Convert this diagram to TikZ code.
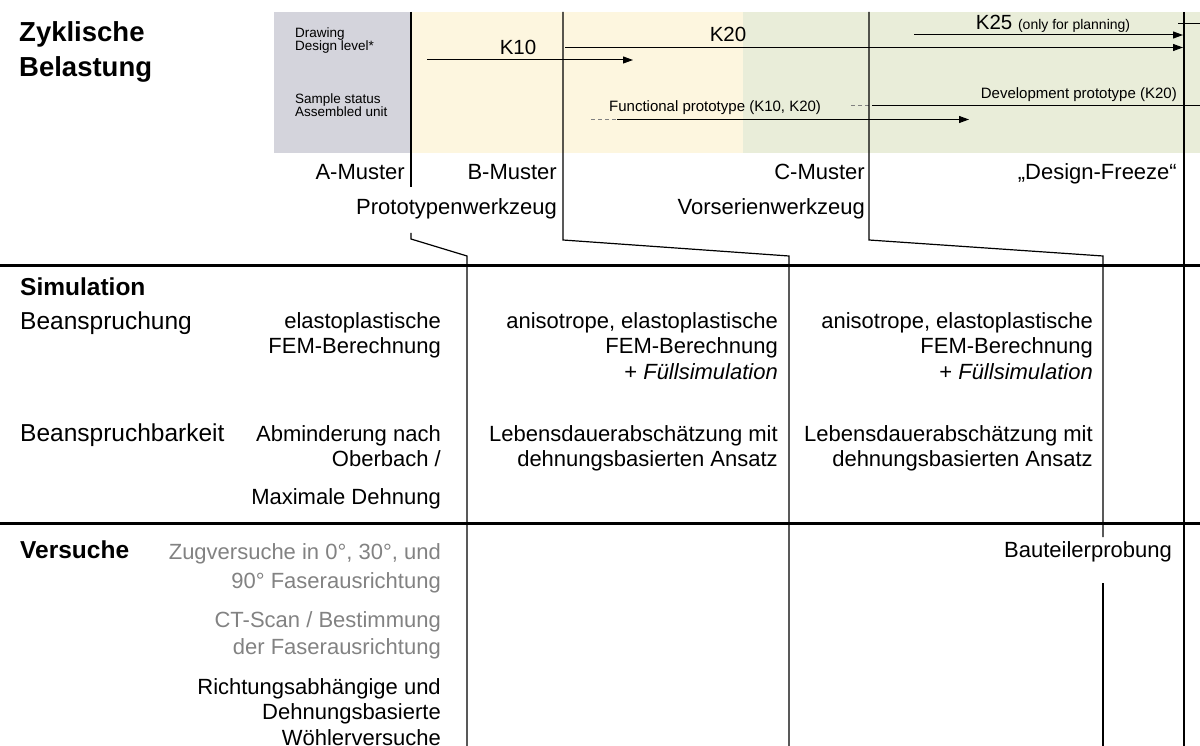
\documentclass[tikz,border=0pt]{standalone}
\usepackage{fontspec}
\setmainfont{Liberation Sans}
\usetikzlibrary{arrows.meta}
\definecolor{bandgray}{RGB}{212,212,220}
\definecolor{bandyellow}{RGB}{253,246,223}
\definecolor{bandgreen}{RGB}{233,237,217}
\definecolor{softtext}{RGB}{130,130,130}
\begin{document}
% multi-line nodes are placed by the baseline of their last line
\begin{tikzpicture}[x=1pt,y=-1pt,
  title/.style={inner sep=0pt,anchor=base west,align=left,font=\fontsize{27.5}{35}\selectfont\bfseries},
  head/.style={inner sep=0pt,anchor=base west,font=\fontsize{24.5}{28}\selectfont\bfseries},
  rowlabel/.style={inner sep=0pt,anchor=base west,font=\fontsize{24.5}{28}\selectfont},
  body/.style={inner sep=0pt,anchor=base east,align=right,font=\fontsize{22}{25.5}\selectfont},
  faint/.style={body,text=softtext},
  tiny/.style={inner sep=0pt,anchor=base west,align=left,font=\fontsize{13.5}{13}\selectfont},
  klab/.style={inner sep=0pt,anchor=base,font=\fontsize{20.5}{24}\selectfont},
  plab/.style={inner sep=0pt,font=\fontsize{15}{18}\selectfont},
  rule/.style={line width=1.2pt},
  heavy/.style={line width=3pt},
  arr/.style={line width=1pt,-{Triangle[length=10pt,width=7pt]}},
  lead/.style={line width=1pt,gray,dash pattern=on 4pt off 3pt}]
\useasboundingbox (0,0) rectangle (1200,746);

% planning band
\fill[bandgray]   (274,12) rectangle (411,153);
\fill[bandyellow] (411,12) rectangle (743,153);
\fill[bandgreen]  (743,12) rectangle (1200,153);

\node[title] (zyk) at (19,77) {Zyklische\\Belastung};

\node[tiny] (drw) at (295,51) {Drawing\\Design level*};
\node[tiny] (smp) at (295,117) {Sample status\\Assembled unit};

% drawing levels
\node[klab] (k10) at (518,55) {K10};
\coordinate (k10a) at (427,60);
\coordinate (k10b) at (633,60);
\draw[arr] (k10a) -- (k10b);

\node[klab] (k20) at (728,42) {K20};
\coordinate (k20a) at (565,47.5);
\coordinate (k20b) at (1183,47.5);
\draw[arr] (k20a) -- (k20b);

\node[klab] (k25) at (1053,30) {K25 {\fontsize{14}{16}\selectfont(only for planning)}};
\coordinate (k25a) at (914,35);
\coordinate (k25b) at (1183,35);
\draw[arr] (k25a) -- (k25b);
\coordinate (k25c) at (1178,23.5);
\coordinate (k25d) at (1200,23.5);
\draw[line width=1pt] (k25c) -- (k25d);

% sample status
\node[plab,anchor=base west] (fp) at (609,112) {Functional prototype (K10, K20)};
\coordinate (fpa) at (591,119.5);
\coordinate (fpb) at (617,119.5);
\coordinate (fpc) at (969,119.5);
\draw[lead] (fpa) -- (fpb);
\draw[arr] (fpb) -- (fpc);

\node[plab,anchor=base east] (dp) at (1177,99) {Development prototype (K20)};
\coordinate (dpa) at (851,105.5);
\coordinate (dpb) at (872,105.5);
\coordinate (dpc) at (1200,105.5);
\draw[lead] (dpa) -- (dpb);
\draw[line width=1pt] (dpb) -- (dpc);

% milestones
\node[body] (am) at (405,180) {A-Muster};
\node[body] (bm) at (557,180) {B-Muster};
\node[body] (cm) at (865,180) {C-Muster};
\node[body] (df) at (1177,180) {„Design-Freeze“};
\node[body] (pw) at (557,215) {Prototypenwerkzeug};
\node[body] (vw) at (865,215) {Vorserienwerkzeug};

% milestone lines
\draw[rule] (411,12) -- (411,187);
\draw[rule] (411,233) -- (411,239) -- (467,256) -- (467,746);
\draw[rule] (563,12) -- (563,240) -- (789,256) -- (789,746);
\draw[rule] (869,12) -- (869,240) -- (1103,256) -- (1103,537);
\draw[rule] (1103,583) -- (1103,746);
\draw[rule] (1184,12) -- (1184,746);

% section separators
\draw[heavy] (0,265.5) -- (1200,265.5);
\draw[heavy] (0,523.5) -- (1200,523.5);

% simulation
\node[head] (sim) at (20,295) {Simulation};
\node[rowlabel] (bsp) at (20,330) {Beanspruchung};
\node[rowlabel] (bsb) at (20,441) {Beanspruchbarkeit};

\node[body] (s1a) at (441,353.5) {elastoplastische\\FEM-Berechnung};
\node[body] (s2a) at (778,379) {anisotrope, elastoplastische\\FEM-Berechnung\\+ \itshape Füllsimulation};
\node[body] (s3a) at (1093,379) {anisotrope, elastoplastische\\FEM-Berechnung\\+ \itshape Füllsimulation};

\node[body] (s1b) at (441,466.5) {Abminderung nach\\Oberbach /};
\node[body] (s1c) at (441,504) {Maximale Dehnung};
\node[body] (s2b) at (778,466.5) {Lebensdauerabschätzung mit\\dehnungsbasierten Ansatz};
\node[body] (s3b) at (1093,466.5) {Lebensdauerabschätzung mit\\dehnungsbasierten Ansatz};

% tests
\node[head] (vs) at (20,558) {Versuche};
\node[faint,font=\fontsize{22}{29}\selectfont] (v1) at (441,588) {Zugversuche in 0°, 30°, und\\90° Faserausrichtung};
\node[faint,font=\fontsize{22}{27}\selectfont] (v2) at (441,654) {CT-Scan / Bestimmung\\der Faserausrichtung};
\node[body] (v3) at (441,745) {Richtungsabhängige und\\Dehnungsbasierte\\Wöhlerversuche};
\node[body] (bt) at (1172,557) {Bauteilerprobung};
\end{tikzpicture}
\end{document}
